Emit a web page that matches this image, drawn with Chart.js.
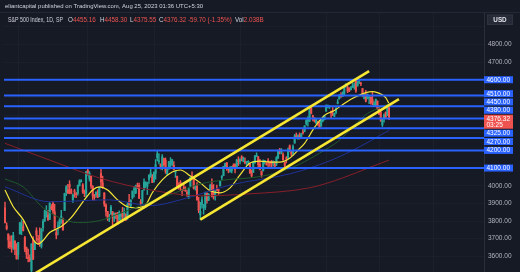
<!DOCTYPE html>
<html>
<head>
<meta charset="utf-8">
<script src="https://cdn.jsdelivr.net/npm/chart.js@4.4.1/dist/chart.umd.min.js"></script>
<style>
  html, body { margin: 0; padding: 0; background: #161a25; }
  #wrap { width: 520px; height: 272px; position: relative; }
</style>
</head>
<body>
<div id="wrap"><canvas id="chart" width="520" height="272"></canvas></div>
<script>
// daily candles [open, high, low, close], S&P 500, 21 Sep 2022 -> 24 Aug 2023
const sep22 = [[3875,3907,3789,3790],[3773,3790,3750,3757],[3727,3727,3647,3693],[3682,3716,3644,3655],[3687,3717,3623,3647],[3651,3736,3640,3719],[3687,3688,3610,3640],[3633,3672,3584,3586]];
const oct22 = [[3609,3679,3584,3679],[3727,3791,3727,3791],[3753,3807,3723,3783],[3771,3798,3744,3745],[3706,3714,3627,3640],[3648,3653,3588,3612],[3595,3641,3569,3589],[3590,3609,3570,3577],[3520,3672,3491,3670],[3690,3712,3584,3583],[3638,3679,3638,3677],[3746,3762,3686,3720],[3696,3719,3666,3695],[3689,3762,3656,3666],[3657,3758,3647,3753],[3762,3810,3742,3798],[3799,3862,3799,3859],[3825,3887,3822,3831],[3834,3860,3803,3807],[3809,3905,3809,3901],[3881,3893,3863,3872]];
const nov22 = [[3901,3911,3843,3856],[3853,3895,3759,3760],[3734,3750,3699,3720],[3767,3796,3721,3771],[3780,3814,3764,3807],[3818,3860,3786,3828],[3810,3817,3749,3749],[3859,3958,3859,3956],[3964,4001,3944,3993],[3977,4008,3956,3957],[4007,4028,3954,3992],[3977,3983,3954,3959],[3919,3954,3906,3947],[3967,3980,3935,3965],[3956,3962,3933,3950],[3956,4004,3947,4003],[4000,4034,3998,4027],[4023,4035,4020,4026],[4005,4012,3956,3964],[3964,3976,3938,3958],[3957,4080,3937,4080]];
const dec22 = [[4087,4101,4059,4076],[4041,4080,4026,4072],[4053,4053,3984,3999],[3996,4001,3919,3941],[3934,3951,3918,3933],[3947,3966,3935,3964],[3954,3977,3933,3934],[3940,3991,3937,3991],[4069,4101,3994,4020],[4016,4054,3984,3996],[3959,3961,3883,3896],[3891,3897,3827,3852],[3853,3855,3803,3818],[3810,3838,3796,3821],[3839,3889,3839,3879],[3853,3853,3765,3822],[3816,3845,3798,3845],[3843,3846,3814,3829],[3829,3849,3783,3783],[3806,3858,3805,3849],[3829,3840,3801,3840]];
const jan23 = [[3853,3878,3795,3824],[3840,3873,3815,3853],[3840,3840,3802,3808],[3823,3906,3809,3895],[3910,3951,3888,3893],[3888,3920,3877,3919],[3932,3970,3925,3970],[3977,3997,3937,3983],[3960,4003,3955,3999],[3999,4015,3984,3991],[4002,4015,3926,3929],[3911,3922,3885,3899],[3909,3973,3899,3973],[3979,4039,3973,4020],[4001,4023,3990,4017],[3997,4020,3950,4016],[4036,4061,4013,4060],[4054,4095,4048,4071],[4050,4063,4017,4018],[4021,4077,4021,4077]];
const feb23 = [[4070,4148,4037,4119],[4158,4195,4141,4180],[4136,4182,4123,4136],[4119,4124,4094,4111],[4105,4176,4089,4164],[4153,4156,4111,4118],[4144,4157,4070,4082],[4068,4094,4060,4090],[4096,4138,4092,4137],[4127,4159,4096,4136],[4120,4148,4114,4148],[4115,4136,4090,4090],[4077,4082,4047,4079],[4053,4054,3998,3997],[4002,4017,3981,3991],[4019,4029,3972,4012],[3973,3978,3944,3970],[3992,4018,3973,3982],[3977,3994,3968,3970]];
const mar23 = [[3964,3972,3940,3951],[3939,3990,3928,3982],[3998,4048,3994,4046],[4055,4079,4044,4048],[4049,4051,3981,3986],[3987,4001,3975,3992],[3999,4018,3918,3919],[3912,3934,3847,3862],[3835,3906,3808,3855],[3894,3937,3873,3920],[3876,3894,3839,3892],[3878,3964,3864,3960],[3958,3959,3901,3917],[3917,3956,3916,3951],[3975,4009,3971,4003],[4002,4039,3936,3937],[3959,4007,3924,3948],[3939,3973,3918,3971],[3982,4003,3971,3977],[3974,3979,3951,3971],[3999,4030,3999,4028],[4047,4057,4033,4051],[4057,4110,4056,4109]];
const apr23 = [[4102,4128,4102,4125],[4129,4133,4086,4101],[4094,4100,4073,4090],[4082,4108,4077,4105],[4085,4109,4072,4109],[4110,4124,4107,4109],[4121,4125,4072,4092],[4100,4150,4099,4146],[4140,4164,4114,4138],[4137,4152,4124,4151],[4164,4170,4140,4155],[4140,4162,4135,4155],[4131,4158,4124,4130],[4132,4138,4114,4133],[4132,4142,4117,4138],[4126,4127,4071,4071],[4087,4089,4049,4056],[4075,4138,4075,4135],[4129,4170,4127,4169]];
const may23 = [[4166,4186,4164,4168],[4164,4165,4098,4119],[4122,4149,4090,4091],[4082,4083,4048,4061],[4084,4147,4084,4136],[4137,4143,4124,4138],[4124,4131,4116,4119],[4143,4154,4098,4137],[4132,4133,4109,4130],[4138,4143,4099,4124],[4126,4141,4110,4136],[4127,4136,4109,4110],[4122,4165,4113,4158],[4157,4202,4153,4198],[4204,4212,4180,4192],[4191,4210,4180,4192],[4176,4186,4145,4146],[4133,4133,4102,4115],[4155,4165,4129,4151],[4157,4213,4155,4205],[4226,4231,4192,4206],[4191,4195,4167,4180]];
const jun23 = [[4184,4232,4172,4221],[4241,4291,4241,4282],[4283,4299,4267,4273],[4271,4289,4262,4283],[4285,4299,4264,4268],[4269,4295,4267,4294],[4304,4322,4292,4299],[4308,4340,4305,4338],[4353,4375,4343,4369],[4366,4391,4337,4373],[4365,4439,4363,4426],[4440,4449,4407,4410],[4396,4400,4367,4389],[4380,4386,4360,4366],[4355,4382,4351,4381],[4355,4366,4341,4348],[4345,4363,4328,4328],[4338,4381,4336,4378],[4367,4388,4361,4376],[4374,4398,4372,4397],[4422,4458,4422,4450]];
const jul23 = [[4450,4456,4442,4455],[4443,4454,4437,4447],[4422,4423,4385,4411],[4405,4443,4398,4399],[4394,4412,4390,4410],[4416,4443,4408,4439],[4467,4488,4463,4472],[4492,4517,4490,4510],[4514,4527,4500,4505],[4508,4532,4504,4522],[4521,4562,4515,4555],[4565,4578,4557,4566],[4555,4565,4527,4535],[4550,4555,4532,4536],[4543,4563,4542,4555],[4556,4581,4556,4567],[4558,4583,4546,4566],[4598,4607,4528,4537],[4565,4590,4563,4582],[4585,4595,4577,4589]];
const aug23 = [[4579,4584,4567,4577],[4550,4551,4505,4513],[4495,4520,4492,4501],[4514,4540,4474,4478],[4492,4519,4492,4518],[4498,4503,4464,4499],[4502,4503,4461,4468],[4487,4528,4457,4468],[4451,4476,4449,4464],[4459,4490,4453,4490],[4479,4480,4432,4437],[4433,4450,4404,4404],[4416,4422,4364,4370],[4344,4381,4335,4370],[4380,4407,4360,4400],[4415,4418,4382,4388],[4397,4448,4397,4436],[4455,4458,4376,4376]];

// moving averages, [bar index, price]
const maYellow = [[0,3976],[5,3881],[11,3808],[17,3696],[20,3670],[23,3690],[27,3735],[34,3769],[40,3819],[48,3920],[53,3976],[57,3993],[62,3976],[68,3920],[74,3881],[79,3875],[85,3892],[89,3960],[95,4033],[101,4078],[106,4089],[112,4055],[118,4016],[124,3971],[130,3960],[136,3988],[142,4061],[148,4128],[154,4139],[160,4134],[166,4134],[172,4156],[177,4201],[181,4240],[187,4330],[193,4398],[199,4426],[205,4465],[211,4499],[218,4527],[222,4533],[225,4527],[230,4499],[232,4465]];
const maGreen = [[0,4038],[11,3993],[23,3875],[33,3819],[44,3791],[57,3802],[69,3842],[82,3887],[94,3931],[106,3971],[118,4010],[133,4033],[152,4049],[166,4078],[178,4122],[190,4184],[202,4257],[211,4342],[219,4409],[227,4443],[232,4465]];
const maBlue = [[0,3993],[27,3909],[63,3920],[88,3887],[106,3920],[136,4004],[172,4067],[196,4140],[215,4224],[227,4287],[232,4313]];
const maRed = [[0,4240],[27,4145],[57,4044],[88,3976],[118,3943],[148,3954],[184,3988],[204,4044],[221,4106],[232,4145]];

// trend channel lines [bar index, price]
const channelUpper = [[16,3491],[220,4649]];
const channelLower = [[118,3808],[238,4490]];

// horizontal levels and price axis
const levels = [4600, 4510, 4450, 4380, 4325, 4270, 4200, 4100];
const yTicks = [3600,3700,3800,3900,4000,4100,4200,4300,4400,4500,4600,4700,4800,4900];
const hiddenTicks = [4100,4200,4300,4400,4500,4900];
const monthLines = [29, 71, 110, 174, 215, 238, 280];
const lastPrice = 4376.32;
const countdown = '03:25';

const candles = [].concat(sep22, oct22, nov22, dec22, jan23, feb23, mar23, apr23, may23, jun23, jul23, aug23);

const UP = '#26a69a', DOWN = '#ef5350';
const X_MIN = -0.6, X_MAX = 289.4;
const FONT = '"Liberation Sans", Arial, sans-serif';

const candleColor = ctx => {
  const c = candles[ctx.dataIndex];
  return c && c[3] >= c[0] ? UP : DOWN;
};
const pts = arr => arr.map(p => ({ x: p[0], y: p[1] }));

const datasets = [];
// channel lines on top
[channelUpper, channelLower].forEach(l => datasets.push({
  type: 'line', data: pts(l), borderColor: '#f7e733', borderWidth: 2.6,
  pointRadius: 0, order: 0
}));
// horizontal levels
levels.forEach(v => datasets.push({
  type: 'line', data: [{ x: X_MIN, y: v }, { x: X_MAX, y: v }],
  borderColor: '#2962ff', borderWidth: 2, pointRadius: 0, order: 1
}));
// moving averages
[[maRed, '#86202a', 1], [maBlue, '#1f3296', 1], [maGreen, '#1f5a2c', 1], [maYellow, '#f5e63a', 1.2]].forEach(m => datasets.push({
  type: 'line', data: pts(m[0]), borderColor: m[1], borderWidth: m[2],
  pointRadius: 0, cubicInterpolationMode: 'monotone', order: 2
}));
// candle bodies and wicks
datasets.push({
  type: 'bar', data: candles.map((c, i) => ({ x: i, y: [c[0], c[3]] })),
  backgroundColor: candleColor, barThickness: 1.4, minBarLength: 1,
  grouped: false, borderWidth: 0, order: 3
});
datasets.push({
  type: 'bar', data: candles.map((c, i) => ({ x: i, y: [c[2], c[1]] })),
  backgroundColor: candleColor, barThickness: 0.8,
  grouped: false, borderWidth: 0, order: 4
});

const overlay = {
  id: 'overlay',
  afterDraw(chart) {
    const g = chart.ctx, ys = chart.scales.y, area = chart.chartArea;
    g.save();
    // header
    g.fillStyle = '#161a25';
    g.fillRect(0, 0, 520, area.top);
    g.strokeStyle = '#242836';
    g.lineWidth = 1;
    g.beginPath(); g.moveTo(0, area.top + 0.5); g.lineTo(520, area.top + 0.5); g.stroke();
    g.textBaseline = 'middle';
    g.textAlign = 'left';
    g.fillStyle = '#d1d4dc';
    g.font = '6px ' + FONT;
    g.fillText('eliantcapital published on TradingView.com, Aug 25, 2023 01:36 UTC+5:30', 5, 6.5, 198);

    g.font = '6.3px ' + FONT;
    const seg = (txt, x, col, w) => { g.fillStyle = col; g.fillText(txt, x, 20, w); return x + Math.min(g.measureText(txt).width, w || 999); };
    seg('S&P 500 Index, 1D, SP', 8, '#d1d4dc', 55);
    let x = seg('O', 68, '#d1d4dc'); seg('4455.16', x, DOWN);
    x = seg('H', 100, '#d1d4dc'); seg('4458.30', x, DOWN);
    x = seg('L', 130, '#d1d4dc'); seg('4375.55', x, DOWN);
    x = seg('C', 159, '#d1d4dc'); seg('4376.32', x, DOWN);
    seg('-59.70 (-1.35%)', 188, DOWN);
    x = seg('Vol', 235, '#d1d4dc'); seg('2.038B', x, DOWN);

    // price labels for levels, pushed apart around the last price box
    const py = ys.getPixelForValue(lastPrice);
    const redTop = py - 4.5, redBot = py + 9.5, H = 7, STEP = 8.3;
    const labs = levels.map(v => ({ v, y: ys.getPixelForValue(v) }));
    let lim = redTop - 1 - H / 2;
    labs.filter(l => l.y < py).sort((a, b) => b.y - a.y).forEach(l => { l.cy = Math.min(l.y, lim); lim = l.cy - STEP; });
    lim = redBot + 1 + H / 2;
    labs.filter(l => l.y >= py).sort((a, b) => a.y - b.y).forEach(l => { l.cy = Math.max(l.y, lim); lim = l.cy + STEP; });
    g.font = '6.5px ' + FONT;
    labs.forEach(l => {
      g.fillStyle = '#2962ff';
      g.fillRect(area.right, l.cy - H / 2, 29, H);
      g.fillStyle = '#ffffff';
      g.fillText(l.v.toFixed(2), area.right + 2.5, l.cy + 0.3);
    });
    g.fillStyle = '#ef5350';
    g.fillRect(area.right, redTop, 29, redBot - redTop);
    g.fillStyle = '#ffffff';
    g.fillText(lastPrice.toFixed(2), area.right + 2.5, py + 0.3);
    g.fillText(countdown, area.right + 2.5, py + 6.2);

    // currency button
    g.fillStyle = '#262a36';
    g.fillRect(487, 14.5, 26, 10);
    g.strokeStyle = '#2f3340';
    g.strokeRect(487.5, 15, 25, 9.5);
    g.fillStyle = '#e0e3eb';
    g.font = 'bold 6.3px ' + FONT;
    g.textAlign = 'center';
    g.fillText('USD', 500, 20);
    g.restore();
  }
};

new Chart(document.getElementById('chart'), {
  type: 'bar',
  data: { datasets },
  plugins: [overlay],
  options: {
    responsive: false,
    animation: false,
    devicePixelRatio: 1,
    layout: { padding: { left: 4, top: 12, right: 0, bottom: 0 } },
    plugins: { legend: { display: false }, tooltip: { enabled: false } },
    scales: {
      x: {
        type: 'linear', min: X_MIN, max: X_MAX, offset: false,
        afterBuildTicks: s => { s.ticks = monthLines.map(v => ({ value: v })); },
        afterFit: s => { s.height = 0; s.paddingLeft = 0; s.paddingRight = 0; s.paddingTop = 0; s.paddingBottom = 0; },
        ticks: { display: false },
        grid: { color: '#1c202d', drawTicks: false },
        border: { display: false }
      },
      y: {
        position: 'right', min: 3511.5, max: 4983.4,
        afterBuildTicks: s => { s.ticks = yTicks.map(v => ({ value: v })); },
        afterFit: s => { s.width = 36; s.paddingTop = 0; s.paddingBottom = 0; },
        ticks: {
          color: '#b2b5be', padding: 4, crossAlign: 'near',
          font: { family: FONT, size: 6.5 },
          callback: v => hiddenTicks.includes(v) ? '' : v.toFixed(2)
        },
        grid: { color: '#1b1f2c', drawTicks: false },
        border: { display: true, color: '#2a2e39' }
      }
    }
  }
});
</script>
</body>
</html>
